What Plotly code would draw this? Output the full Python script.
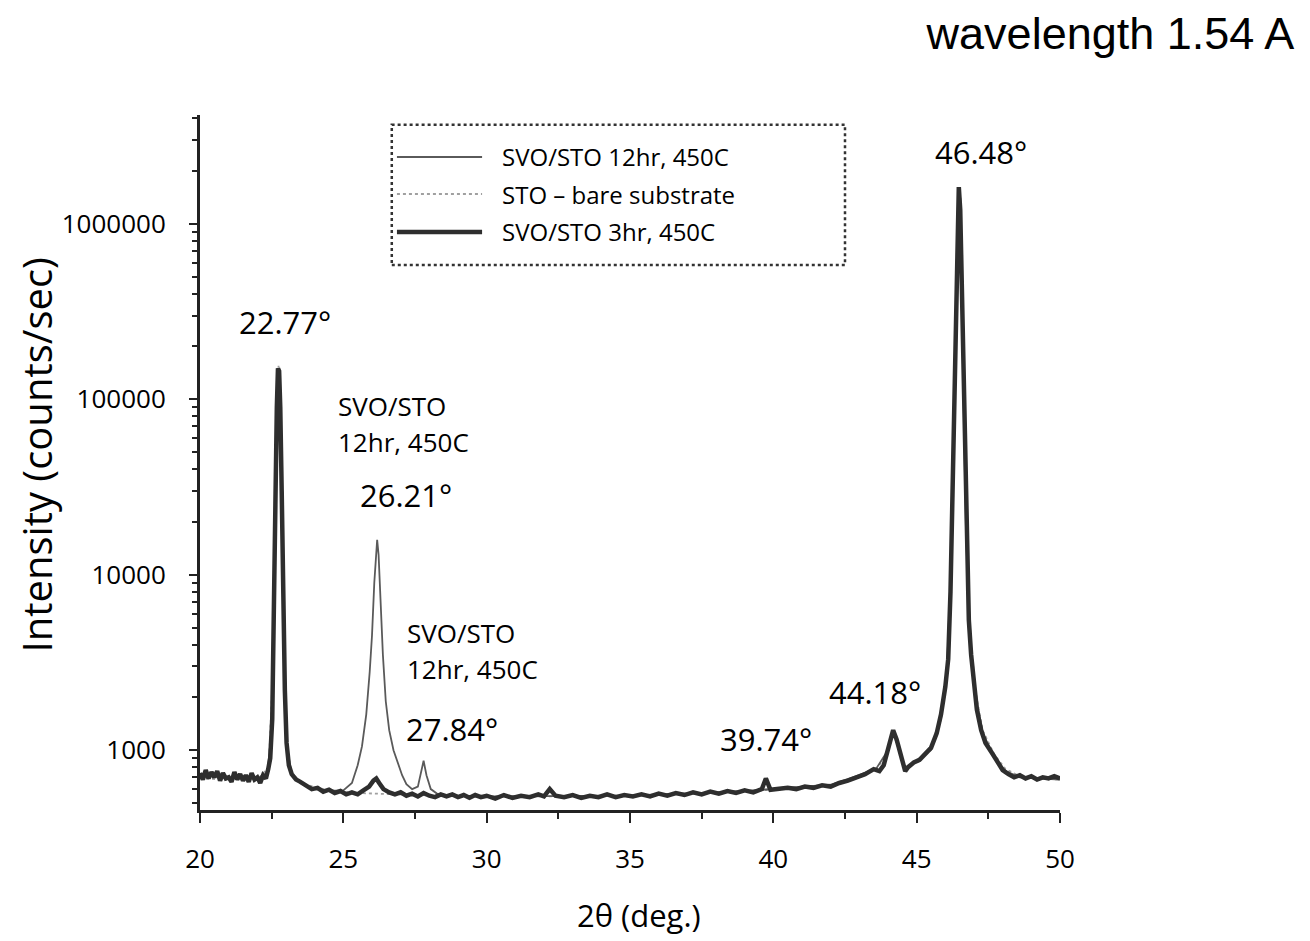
import plotly.graph_objects as go

# ---------------- data ----------------
x_3hr = [20.0, 20.1, 20.2, 20.3, 20.4, 20.5, 20.6, 20.7, 20.8, 20.9, 21.0, 21.1, 21.2, 21.3,
         21.4, 21.5, 21.6, 21.7, 21.8, 21.9, 22.0, 22.1, 22.2, 22.3, 22.38, 22.45,
         22.52, 22.58, 22.63, 22.68, 22.72, 22.76, 22.8, 22.85, 22.9, 22.96, 23.02, 23.1, 23.2,
         23.35, 23.5, 23.7, 23.9, 24.1, 24.3, 24.5, 24.7, 24.9, 25.1, 25.3, 25.5, 25.7, 25.9,
         26.05, 26.15, 26.25, 26.4, 26.6, 26.8, 27.0, 27.2, 27.4, 27.6, 27.8, 28.0, 28.2, 28.4,
         28.6, 28.8, 29.0, 29.2, 29.4, 29.6, 29.8, 30.0, 30.3, 30.6, 30.9, 31.2, 31.5, 31.8,
         32.0, 32.2, 32.4, 32.7, 33.0, 33.3, 33.6, 33.9, 34.2, 34.5, 34.8, 35.1, 35.4, 35.7,
         36.0, 36.3, 36.6, 36.9, 37.2, 37.5, 37.8, 38.1, 38.4, 38.7, 39.0, 39.3, 39.6, 39.74,
         39.9, 40.2, 40.5, 40.8, 41.1, 41.4, 41.7, 42.0, 42.3, 42.6, 42.9, 43.2, 43.5, 43.7,
         43.85, 44.0, 44.1, 44.18, 44.3, 44.45, 44.6, 44.7, 44.9, 45.1, 45.3, 45.5, 45.7, 45.85,
         46.0, 46.1, 46.18, 46.25, 46.32, 46.38, 46.43, 46.47, 46.52, 46.57, 46.62, 46.68, 46.75,
         46.82, 46.9, 47.0, 47.1, 47.25, 47.4, 47.6, 47.8, 48.0, 48.2, 48.4, 48.6, 48.8, 49.0,
         49.2, 49.4, 49.6, 49.8, 50.0]
y_3hr = [740, 680, 770, 690, 750, 700, 760, 670, 740, 690, 700, 660, 750, 680,
         730, 670, 720, 660, 740, 680, 700, 650, 720, 690, 780, 900,
         1500, 5000, 25000, 90000, 150000, 145000, 90000, 30000, 8000, 2200, 1100, 820, 730,
         680, 660, 630, 600, 610, 580, 595, 570, 585, 560, 575, 560, 590, 620,
         670, 690, 650, 600, 575, 560, 575, 550, 565, 545, 570, 550, 540, 560,
         545, 560, 540, 555, 535, 555, 540, 550, 530, 555, 535, 550, 540, 560,
         545, 600, 550, 540, 555, 535, 550, 540, 560, 540, 555, 545, 560, 545,
         565, 550, 570, 555, 575, 560, 580, 565, 585, 570, 590, 575, 600, 690,
         595, 600, 610, 600, 620, 610, 630, 620, 650, 670, 700, 730, 780, 760,
         820, 1000, 1200, 1300, 1150, 930, 760, 800, 850, 880, 950, 1030, 1250, 1600,
         2300, 3300, 8000, 28000, 120000, 500000, 1400000, 1620000, 1200000, 450000, 140000, 40000, 12000,
         5500, 3500, 2400, 1700, 1300, 1100, 980, 860, 770, 730, 700, 720, 690, 710,
         680, 700, 690, 710, 690]

x_12hr = [20.0, 20.5, 21.0, 21.5, 22.0, 22.35, 22.5, 22.6, 22.67, 22.73, 22.78, 22.84, 22.9,
          22.97, 23.05, 23.2, 23.5, 24.0, 24.5, 25.0, 25.3, 25.5, 25.65, 25.8, 25.92, 26.0,
          26.08, 26.14, 26.18, 26.23, 26.3, 26.38, 26.48, 26.6, 26.75, 26.9, 27.05, 27.2, 27.4,
          27.6, 27.72, 27.8, 27.9, 28.05, 28.3, 29.0, 30.0, 31.0, 32.0, 33.0, 34.0, 35.0, 36.0,
          37.0, 38.0, 39.0, 40.0, 41.0, 42.0, 43.0, 43.6, 44.0, 44.18, 44.35, 44.6, 45.0, 45.5,
          45.85, 46.05, 46.2, 46.3, 46.38, 46.45, 46.5, 46.56, 46.63, 46.72, 46.85, 47.0, 47.3,
          47.7, 48.1, 48.6, 49.2, 50.0]
y_12hr = [700, 720, 690, 710, 690, 740, 1300, 12000, 80000, 145000, 130000, 50000, 9000,
          2000, 950, 720, 650, 600, 585, 590, 650, 820, 1050, 1600, 2800, 4500,
          9000, 14000, 15800, 13000, 7000, 3500, 1900, 1300, 1000, 840, 720, 640, 600,
          620, 760, 870, 720, 600, 560, 550, 545, 545, 550, 545, 550, 550, 560,
          565, 575, 585, 600, 615, 635, 720, 790, 1000, 1280, 1050, 780, 870, 1020,
          1550, 2700, 11000, 90000, 480000, 1500000, 1550000, 500000, 120000, 18000, 4500, 2300, 1250,
          920, 760, 700, 690, 680]

x_sto = [20.0, 21.0, 22.0, 22.4, 22.55, 22.65, 22.74, 22.8, 22.87, 22.95, 23.05, 23.2, 23.6,
         24.5, 25.5, 26.5, 27.5, 28.5, 30.0, 32.0, 34.0, 36.0, 38.0, 40.0, 42.0, 43.0, 43.6,
         44.0, 44.18, 44.35, 44.6, 45.0, 45.5, 45.85, 46.05, 46.2, 46.32, 46.4, 46.47, 46.53,
         46.6, 46.68, 46.78, 46.9, 47.05, 47.3, 47.7, 48.1, 48.6, 49.3, 50.0]
y_sto = [690, 680, 680, 800, 3000, 50000, 155000, 110000, 20000, 2500, 1000, 740, 640,
         590, 570, 560, 555, 550, 545, 545, 550, 555, 570, 595, 630, 700, 780,
         980, 1250, 1050, 790, 860, 1000, 1500, 2600, 10000, 100000, 700000, 1600000, 1400000,
         300000, 50000, 9000, 4000, 2200, 1300, 950, 780, 710, 690, 680]

legend_names = ["SVO/STO 12hr, 450C", "STO \u2013 bare substrate", "SVO/STO 3hr, 450C"]

x_ticks = [20, 25, 30, 35, 40, 45, 50]
y_ticks = [1000, 10000, 100000, 1000000]
y_tick_text = ["1000", "10000", "100000", "1000000"]

peak_labels = ["22.77\u00b0", "26.21\u00b0", "27.84\u00b0", "39.74\u00b0", "44.18\u00b0", "46.48\u00b0"]

# ---------------- styles ----------------
FONT = "Open Sans"
style_12 = dict(color="#5a5a5a", width=1.8)
style_sto = dict(color="#a0a0a0", width=1.8, dash="dot")
style_3 = dict(color="#2e2e2e", width=4.5)

fig = go.Figure()
fig.add_trace(go.Scatter(x=x_sto, y=y_sto, mode="lines", line=style_sto, name=legend_names[1], showlegend=False))
fig.add_trace(go.Scatter(x=x_12hr, y=y_12hr, mode="lines", line=style_12, name=legend_names[0], showlegend=False))
fig.add_trace(go.Scatter(x=x_3hr, y=y_3hr, mode="lines", line=style_3, name=legend_names[2], showlegend=False))

minor_y = [m * 10 ** e for e in range(2, 7) for m in range(2, 10)]

fig.update_layout(
    width=1302, height=933,
    margin=dict(l=192, r=250, t=107, b=131),
    paper_bgcolor="white", plot_bgcolor="white",
    showlegend=False,
    title=dict(text="wavelength 1.54 A", x=0.988, xanchor="right", xref="container",
               y=0.9732, yanchor="middle", yref="container",
               font=dict(family="Liberation Sans", size=45, color="black")),
    xaxis=dict(range=[20, 50], tickvals=x_ticks, ticks="outside", ticklen=10, tickwidth=2,
               tickcolor="#222", showline=True, linecolor="#222", linewidth=3, showgrid=False,
               zeroline=False, tickfont=dict(family=FONT, size=26, color="black"),
               ticklabelstandoff=14,
               minor=dict(ticks="outside", ticklen=6, tickwidth=2, tickcolor="#222",
                          tickvals=[22.5, 27.5, 32.5, 37.5, 42.5, 47.5])),
    yaxis=dict(type="log", range=[2.659, 6.62], tickvals=y_ticks, ticktext=y_tick_text,
               ticks="outside", ticklen=8, tickwidth=2, tickcolor="#222",
               showline=True, linecolor="#222", linewidth=3, showgrid=False, zeroline=False,
               tickfont=dict(family=FONT, size=26, color="black"), ticklabelstandoff=18,
               minor=dict(ticks="outside", ticklen=5, tickwidth=1.5, tickcolor="#222",
                          tickvals=minor_y)),
)

# axis titles
fig.add_annotation(text="Intensity (counts/sec)", xref="paper", yref="paper", x=-0.19, y=0.511,
                   textangle=-90, showarrow=False, font=dict(family=FONT, size=40, color="black"),
                   xanchor="center", yanchor="middle")
fig.add_annotation(text="2\u03b8 (deg.)", xref="paper", yref="paper", x=0.51, y=-0.151,
                   showarrow=False, font=dict(family=FONT, size=31, color="black"),
                   xanchor="center", yanchor="middle")

# peak labels
peak_pos = [(22.965, 5.443), (27.186, 4.455), (28.79, 3.119), (39.74, 3.0625), (43.546, 3.3295), (47.24, 6.409)]
for lab, (px, py) in zip(peak_labels, peak_pos):
    fig.add_annotation(text=lab, x=px, y=py, showarrow=False, xanchor="center", yanchor="middle",
                       font=dict(family=FONT, size=31, color="black"))

side_notes = [("SVO/STO", 24.744, 4.960), ("12hr, 450C", 24.744, 4.756),
              ("SVO/STO", 27.151, 3.665), ("12hr, 450C", 27.151, 3.460)]
for lab, px, py in side_notes:
    fig.add_annotation(text=lab, x=px, y=py, showarrow=False, xanchor="left", yanchor="middle",
                       font=dict(family=FONT, size=26, color="black"))

# legend box (drawn)
fig.add_shape(type="rect", xref="paper", yref="paper", x0=0.223, x1=0.75, y0=0.784, y1=0.986,
              line=dict(color="#333", width=2.5, dash="dot"), fillcolor="white", layer="below")
rows_y = [0.9396, 0.8863, 0.8317]
styles = [style_12, style_sto, style_3]
for name, ry, st in zip(legend_names, rows_y, styles):
    fig.add_shape(type="line", xref="paper", yref="paper", x0=0.229, x1=0.328, y0=ry, y1=ry,
                  line=st)
    fig.add_annotation(text=name, xref="paper", yref="paper", x=0.349, y=ry, showarrow=False,
                       xanchor="left", yanchor="middle", font=dict(family=FONT, size=24, color="black"))

fig.write_html("out.html")
